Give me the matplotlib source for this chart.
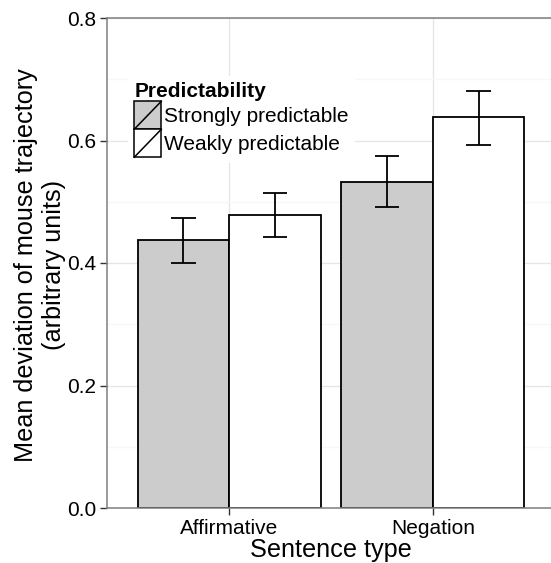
import matplotlib
matplotlib.use("Agg")
import matplotlib.pyplot as plt
from matplotlib.legend_handler import HandlerBase
from matplotlib.patches import Rectangle
from matplotlib.lines import Line2D
import numpy as np

plt.rcParams['font.family'] = ['Liberation Sans', 'DejaVu Sans']

# Data
sentence_types = ["Affirmative", "Negation"]
groups = ["Strongly predictable", "Weakly predictable"]
strong_mean = [0.437, 0.533]
strong_lo = [0.400, 0.491]
strong_hi = [0.474, 0.575]
weak_mean = [0.479, 0.638]
weak_lo = [0.443, 0.593]
weak_hi = [0.515, 0.681]
fills = ["#CCCCCC", "#FFFFFF"]

W, H = 551, 563
fig = plt.figure(figsize=(W / 100, H / 100), dpi=100)
ax = fig.add_axes([107 / W, 1 - 508 / H, (555 - 107) / W, (508 - 18) / H])

x = np.arange(1, len(sentence_types) + 1)
bw = 0.45
cap = 0.06

for i, (means, lo, hi) in enumerate([(strong_mean, strong_lo, strong_hi),
                                     (weak_mean, weak_lo, weak_hi)]):
    pos = x + (i - 0.5) * bw
    ax.bar(pos, means, width=bw, color=fills[i], edgecolor="black",
           linewidth=1.3, zorder=2)
    ax.vlines(pos, lo, hi, color="black", linewidth=1.3, zorder=3)
    ax.hlines(lo, pos - cap, pos + cap, color="black", linewidth=1.3, zorder=3)
    ax.hlines(hi, pos - cap, pos + cap, color="black", linewidth=1.3, zorder=3)

ax.set_xlim(0.4, 2.6)
ax.set_ylim(0, 0.8)
ax.set_xticks(x)
ax.set_xticklabels(sentence_types)
ax.set_yticks([0.0, 0.2, 0.4, 0.6, 0.8])
ax.set_yticklabels(["0.0", "0.2", "0.4", "0.6", "0.8"])
ax.set_yticks([0.1, 0.3, 0.5, 0.7], minor=True)

ax.set_axisbelow(True)
ax.grid(which="major", color="#E5E5E5", linewidth=0.9)
ax.grid(which="minor", axis="y", color="#F7F7F7", linewidth=0.9)
ax.tick_params(which="major", length=5, width=1, color="#333333",
               labelsize=15, labelcolor="black", pad=3)
ax.tick_params(axis="x", pad=3)
ax.tick_params(which="minor", length=0)
for s in ax.spines.values():
    s.set_color("#7F7F7F")
    s.set_linewidth(1.1)


class KeyHandler(HandlerBase):
    def create_artists(self, legend, orig_handle, xdescent, ydescent,
                       width, height, fontsize, trans):
        r = Rectangle((-xdescent, -ydescent), width, height,
                      facecolor=orig_handle.get_facecolor(),
                      edgecolor="black", linewidth=1.1, transform=trans)
        l = Line2D([-xdescent, -xdescent + width], [-ydescent, -ydescent + height],
                   color="black", linewidth=1.1, transform=trans)
        return [r, l]


handles = [Rectangle((0, 0), 1, 1, facecolor=f) for f in fills]
leg = ax.legend(handles, groups, title="Predictability",
                handler_map={Rectangle: KeyHandler()},
                loc="upper left", bbox_to_anchor=(128 / W, 1 - 76 / H),
                bbox_transform=fig.transFigure,
                fontsize=15, title_fontproperties={"weight": "bold", "size": 15},
                frameon=True, framealpha=1, edgecolor="white", fancybox=False,
                handlelength=1.3, handleheight=1.69, handletextpad=0.15,
                labelspacing=0.0, borderpad=0.3, borderaxespad=0,
                alignment="left")
leg.get_frame().set_linewidth(0)

fig.text(40 / W, 1 - 265 / H, "Mean deviation of mouse trajectory\n(arbitrary units)",
         rotation=90, ha="center", va="center", fontsize=18.2,
         multialignment="center", linespacing=1.2)
fig.text(331 / W, 1 - 557 / H, "Sentence type", ha="center", va="baseline",
         fontsize=18.2)

fig.savefig("out.png", dpi=100)
